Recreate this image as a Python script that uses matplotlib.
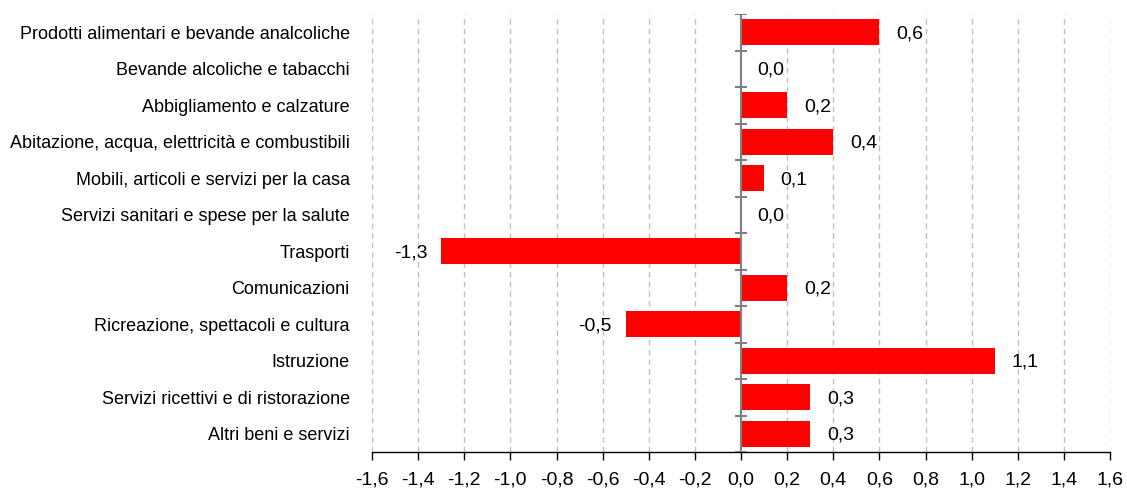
import numpy as np
import matplotlib.pyplot as plt

plt.rcParams['font.family'] = ['Liberation Sans', 'DejaVu Sans']

categories = [
    "Prodotti alimentari e bevande analcoliche",
    "Bevande alcoliche e tabacchi",
    "Abbigliamento e calzature",
    "Abitazione, acqua, elettricità e combustibili",
    "Mobili, articoli e servizi per la casa",
    "Servizi sanitari e spese per la salute",
    "Trasporti",
    "Comunicazioni",
    "Ricreazione, spettacoli e cultura",
    "Istruzione",
    "Servizi ricettivi e di ristorazione",
    "Altri beni e servizi",
]
values = [0.6, 0.0, 0.2, 0.4, 0.1, 0.0, -1.3, 0.2, -0.5, 1.1, 0.3, 0.3]
xticks = np.round(np.arange(-1.6, 1.61, 0.2), 1) + 0.0


def fmt(v):
    s = f"{v:.1f}".replace(".", ",")
    return "0,0" if s == "-0,0" else s


fig = plt.figure(figsize=(11.27, 4.9), dpi=100)
ax = fig.add_axes([372 / 1127, 38 / 490, 738 / 1127, 438 / 490])

y = np.arange(len(categories))
ax.barh(y, values, height=0.7, color="#ff0000", zorder=3)
ax.set_ylim(len(categories) - 0.5, -0.5)
ax.set_xlim(-1.6, 1.6)

# dashed grid
for t in xticks:
    if t != 0:
        ax.axvline(t, color="#c0c0c0", linestyle=(0, (4, 3)), linewidth=1, zorder=1)

# zero axis with category tick marks
ax.axvline(0, color="#808080", linewidth=1.5, zorder=4)
for b in np.arange(-0.5, len(categories), 1.0):
    ax.plot([-0.028, 0.028], [b, b], color="#808080", linewidth=1.5, zorder=4,
            solid_capstyle="butt")

for s in ["top", "right", "left"]:
    ax.spines[s].set_visible(False)
ax.spines["bottom"].set_color("black")
ax.spines["bottom"].set_linewidth(1)

ax.set_xticks(xticks)
ax.set_xticklabels([fmt(t) for t in xticks], fontsize=14)
ax.tick_params(axis="x", length=6, width=1, color="black", pad=8)
ax.set_yticks(y)
ax.set_yticklabels(categories, fontsize=13)
ax.tick_params(axis="y", length=0, pad=16)

for yi, v in zip(y, values):
    if v < 0:
        ax.annotate(fmt(v), (v, yi), xytext=(-10, -1), textcoords="offset points",
                    ha="right", va="center", fontsize=14)
    else:
        ax.annotate(fmt(v), (v, yi), xytext=(12, -1), textcoords="offset points",
                    ha="left", va="center", fontsize=14)

fig.savefig("out.png", dpi=100)
